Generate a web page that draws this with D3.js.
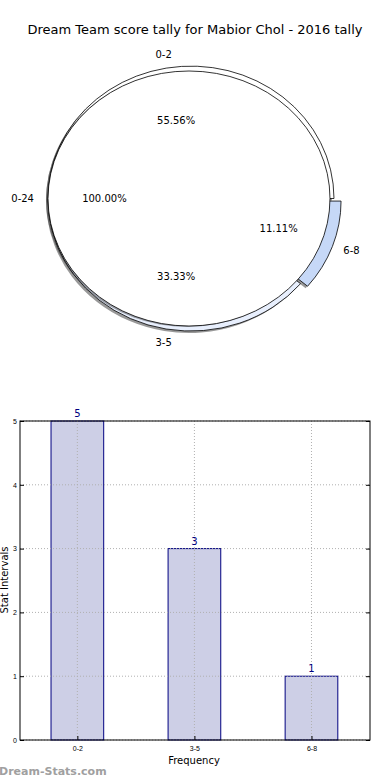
<!DOCTYPE html>
<meta charset="utf-8">
<html>
<head>
<title>Mabior Chol tally</title>
<style>
body { margin: 0; background: #fff; font-family: "DejaVu Sans", sans-serif; }
.grid line { stroke: #b0b0b0; stroke-dasharray: 1,2; }
.axis text { font-size: 7px; fill: #000; }
.axis line { stroke: #000; }
</style>
</head>
<body>
<svg width="390" height="780"></svg>
<script src="https://d3js.org/d3.v7.min.js"></script>
<script>
// pie data
var pieLabels = ["0-2", "3-5", "6-8"];
var pieValues = [5, 3, 1];
var pieColors = ["#ffffff", "#e8effd", "#c6d8f7"];
var totalLabel = ["0-24"];
var totalValue = [9];

// bar data
var barCats = ["0-2", "3-5", "6-8"];
var barValues = [5, 3, 1];
var yTicks = [0, 1, 2, 3, 4, 5];

var svg = d3.select("svg");

svg.append("text")
    .attr("x", 195).attr("y", 34)
    .attr("text-anchor", "middle")
    .attr("font-size", 13)
    .text("Dream Team score tally for Mabior Chol - 2016 tally");

// ---- pie (ellipse: drawn in unit coords, then scaled)
var sx = 191, sy = 198.5, srx = 143, sry = 132.5;   // slices
var fx = 189, fy = 198.5, frx = 141, fry = 127.5;   // full 0-24 disc
var explodePx = [0, 0, 7.5];

var pie = d3.pie().sort(null).startAngle(Math.PI / 2).endAngle(Math.PI / 2 - 2 * Math.PI);
var arcs = pie(pieValues);
var unit = d3.arc().innerRadius(0).outerRadius(1);

function mid(d) { return (d.startAngle + d.endAngle) / 2; }
function shift(d, i) {
  var a = mid(d);
  return [Math.sin(a) * explodePx[i], -Math.cos(a) * explodePx[i]];
}

var sg = svg.append("g");
arcs.forEach(function(d, i) {
  var o = shift(d, i);
  sg.append("path")
    .attr("d", unit(d))
    .attr("transform", "translate(" + (sx + o[0] - 2) + "," + (sy + o[1] + 2) + ") scale(" + srx + "," + sry + ")")
    .attr("fill", "#000").attr("fill-opacity", 0.4);
});
arcs.forEach(function(d, i) {
  var o = shift(d, i);
  sg.append("path")
    .attr("d", unit(d))
    .attr("transform", "translate(" + (sx + o[0]) + "," + (sy + o[1]) + ") scale(" + srx + "," + sry + ")")
    .attr("fill", pieColors[i])
    .attr("stroke", "#000").attr("stroke-width", 0.8)
    .attr("vector-effect", "non-scaling-stroke");
});

// full 100% disc drawn on top
var full = pie(totalValue)[0];
svg.append("path")
  .attr("d", unit(full))
  .attr("transform", "translate(" + (fx - 2) + "," + (fy + 1) + ") scale(" + frx + "," + fry + ")")
  .attr("fill", "#000").attr("fill-opacity", 0.35);
svg.append("path")
  .attr("d", unit(full))
  .attr("transform", "translate(" + fx + "," + fy + ") scale(" + frx + "," + fry + ")")
  .attr("fill", "#fff")
  .attr("stroke", "#000").attr("stroke-width", 0.8)
  .attr("vector-effect", "non-scaling-stroke");

function place(d, i, k, ex) {
  var a = mid(d), o = shift(d, i);
  return [sx + Math.sin(a) * k * srx + o[0] * ex, sy - Math.cos(a) * k * sry + o[1]];
}

arcs.forEach(function(d, i) {
  var p = place(d, i, 1.1, 1.8);
  svg.append("text").attr("x", p[0]).attr("y", p[1]).attr("dy", "0.35em")
    .attr("text-anchor", "middle").attr("font-size", 10).text(pieLabels[i]);
  var q = place(d, i, 0.6, 1);
  svg.append("text").attr("x", q[0]).attr("y", q[1]).attr("dy", "0.35em")
    .attr("text-anchor", "middle").attr("font-size", 10)
    .text((d.value / d3.sum(pieValues) * 100).toFixed(2) + "%");
});
var fa = mid(full);
svg.append("text").attr("x", fx + Math.sin(fa) * 1.18 * frx).attr("y", fy).attr("dy", "0.35em")
  .attr("text-anchor", "middle").attr("font-size", 10).text(totalLabel[0]);
svg.append("text").attr("x", fx + Math.sin(fa) * 0.6 * frx).attr("y", fy).attr("dy", "0.35em")
  .attr("text-anchor", "middle").attr("font-size", 10)
  .text((totalValue[0] / d3.sum(pieValues) * 100).toFixed(2) + "%");

// ---- bar chart
var pLeft = 20, pRight = 370, pTop = 421, pBottom = 740;
var x = d3.scaleLinear().domain([-0.49, 2.5]).range([pLeft, pRight]);
var y = d3.scaleLinear().domain([0, 5]).range([pBottom, pTop]);
var bw = 0.45;

svg.selectAll(".bar").data(barValues).enter().append("rect")
  .attr("x", function(d, i) { return x(i - bw / 2); })
  .attr("width", x(bw) - x(0))
  .attr("y", function(d) { return y(d); })
  .attr("height", function(d) { return y(0) - y(d); })
  .attr("fill", "#cdcfe6").attr("stroke", "#000080").attr("stroke-width", 1);

// dotted grid on top of the bars
var grid = svg.append("g").attr("class", "grid");
grid.selectAll(".v").data(barCats).enter().append("line")
  .attr("y1", pTop).attr("y2", pBottom)
  .attr("x1", function(d, i) { return x(i); }).attr("x2", function(d, i) { return x(i); });
grid.selectAll(".h").data(yTicks).enter().append("line")
  .attr("x1", pLeft).attr("x2", pRight)
  .attr("y1", function(d) { return y(d); }).attr("y2", function(d) { return y(d); });

svg.selectAll(".val").data(barValues).enter().append("text")
  .attr("x", function(d, i) { return x(i); })
  .attr("y", function(d) { return y(d) - 4; })
  .attr("text-anchor", "middle").attr("font-size", 10).attr("fill", "#000080")
  .text(function(d) { return d; });

svg.append("g").attr("class", "axis")
  .attr("transform", "translate(" + pLeft + ",0)")
  .call(d3.axisLeft(y).tickValues(yTicks).tickSize(-4).tickPadding(3).tickFormat(d3.format("d")))
  .call(function(g) { g.select(".domain").remove(); });
svg.append("g").attr("class", "axis")
  .attr("transform", "translate(" + pRight + ",0)")
  .call(d3.axisRight(y).tickValues(yTicks).tickSize(-4).tickFormat(""))
  .call(function(g) { g.select(".domain").remove(); });
svg.append("g").attr("class", "axis")
  .attr("transform", "translate(0," + pBottom + ")")
  .call(d3.axisBottom(x).tickValues([0, 1, 2]).tickSize(-4).tickPadding(6)
    .tickFormat(function(d) { return barCats[d]; }))
  .call(function(g) { g.select(".domain").remove(); });

svg.append("rect").attr("x", pLeft).attr("y", pTop)
  .attr("width", pRight - pLeft).attr("height", pBottom - pTop)
  .attr("fill", "none").attr("stroke", "#000").attr("stroke-width", 1);

svg.append("text").attr("x", 194).attr("y", 764)
  .attr("text-anchor", "middle").attr("font-size", 10).text("Frequency");
svg.append("text")
  .attr("transform", "translate(8,580) rotate(-90)")
  .attr("text-anchor", "middle").attr("font-size", 10).text("Stat Intervals");

svg.append("text").attr("x", -1).attr("y", 775)
  .attr("font-size", 11).attr("font-weight", "bold").attr("fill", "#a0a0a0")
  .text("Dream-Stats.com");
</script>
</body>
</html>
